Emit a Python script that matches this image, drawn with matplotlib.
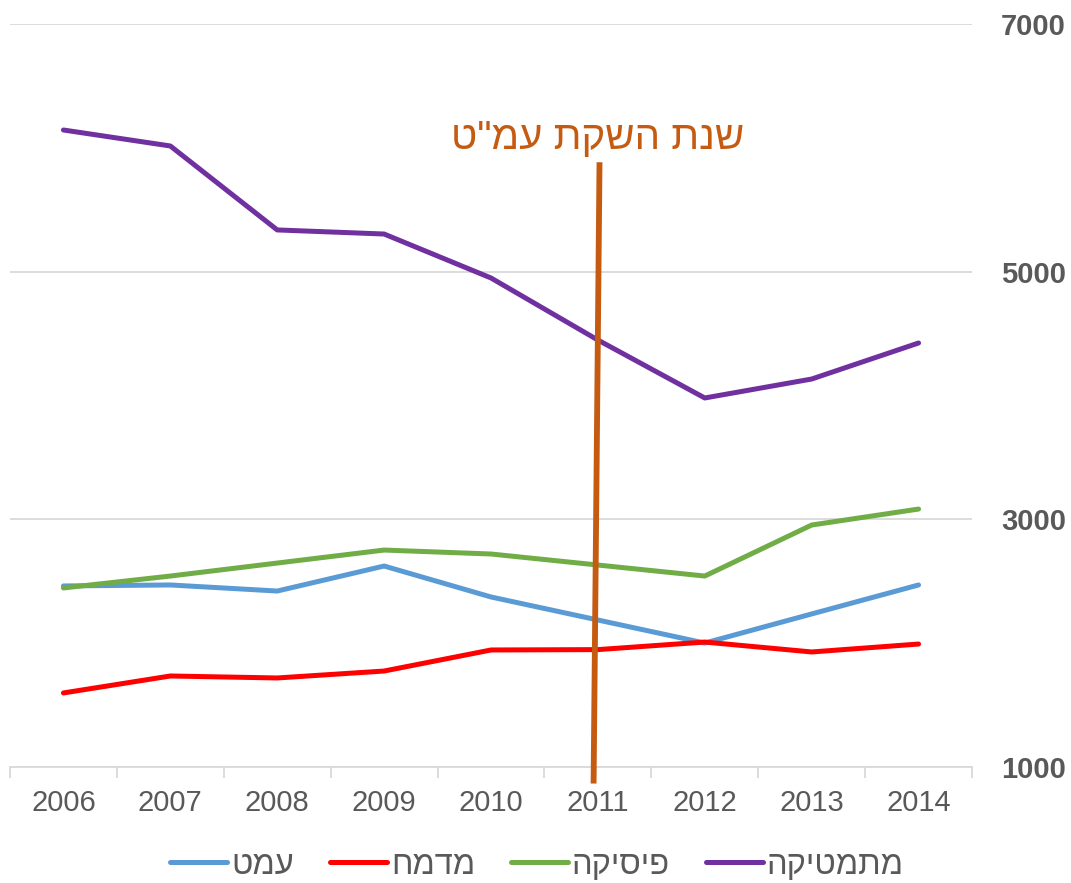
import matplotlib
matplotlib.use('Agg')
import matplotlib.pyplot as plt

plt.rcParams['font.family'] = ['Liberation Sans', 'DejaVu Sans']

# נתונים
years = ['2006', '2007', '2008', '2009', '2010', '2011', '2012', '2013', '2014']
amat = [2462, 2470, 2421, 2623, 2373, 2187, 2001, 2236, 2470]
mdmh = [1598, 1735, 1719, 1775, 1945, 1948, 2009, 1929, 1993]
physics = [2446, 2542, 2647, 2752, 2720, 2631, 2542, 2954, 3083]
math = [6144, 6015, 5337, 5304, 4949, 4448, 3980, 4133, 4424]

series_names = ['עמט', 'מדמח', 'פיסיקה', 'מתמטיקה']
series_colors = ['#5B9BD5', '#FF0000', '#70AD47', '#7030A0']

# קו שנת ההשקה (מיקום בציר הקטגוריות וערך)
launch_x = [5.015, 4.96]
launch_y = [5860, 890]
launch_label = 'שנת השקת עמ"ט'


def rtl(s):
    # matplotlib לא מבצע bidi - הופכים את סדר האותיות
    return s[::-1]


fig = plt.figure(figsize=(10.71, 8.83), dpi=100)
ax = fig.add_axes([10 / 1071, 1 - 767 / 883, 962 / 1071, 743 / 883])

x = range(len(years))
for vals, name, col in zip([amat, mdmh, physics, math], series_names, series_colors):
    ax.plot(x, vals, color=col, lw=3.6, label=rtl(name), solid_capstyle='round', zorder=3)

ax.plot(launch_x, launch_y, color='#C55A11', lw=4.2, clip_on=False, zorder=4)
ax.text(5.0, 5930, rtl(launch_label), color='#C55A11', fontsize=29,
        ha='center', va='bottom')

ax.set_xlim(-0.5, len(years) - 0.5)
ax.set_ylim(1000, 7000)
ax.set_yticks([1000, 3000, 5000, 7000])
ax.yaxis.tick_right()
for lbl in ax.get_yticklabels():
    lbl.set_fontweight('bold')
ax.tick_params(axis='y', length=0, pad=21, labelsize=21, labelcolor='#595959')
ax.grid(axis='y', color='#D9D9D9', lw=1.3)
ax.set_axisbelow(True)

ax.set_xticks(list(x))
ax.set_xticklabels(years)
ax.set_xticks([i - 0.5 for i in range(len(years) + 1)], minor=True)
ax.tick_params(axis='x', which='major', length=0, pad=16, labelsize=21, labelcolor='#595959')
ax.tick_params(axis='x', which='minor', length=8, width=1.3, color='#D9D9D9')

for s in ['top', 'left', 'right']:
    ax.spines[s].set_visible(False)
ax.spines['bottom'].set_color('#D9D9D9')
ax.spines['bottom'].set_linewidth(1.3)

fig.legend(loc='center', bbox_to_anchor=(537 / 1071, 1 - 865 / 883), ncol=4,
           frameon=False, fontsize=23.5, handlelength=1.75, handletextpad=0.12,
           columnspacing=1.1, labelcolor='#595959')

fig.savefig('out.png', dpi=100)
